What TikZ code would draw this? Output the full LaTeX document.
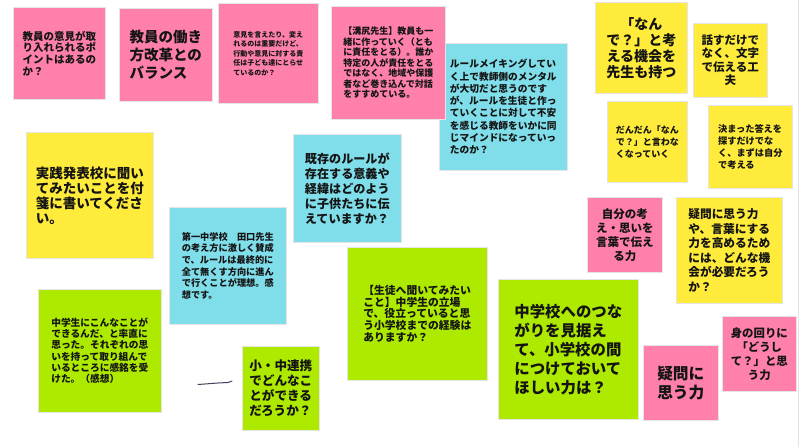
\documentclass[tikz,border=0pt]{standalone}
\usepackage{fontspec}
\setmainfont{Noto Sans CJK JP}
\usepackage{xcolor}
\usepackage{tikz}
\definecolor{notepink}{HTML}{FF80AB}
\definecolor{noteyellow}{HTML}{FFEB3B}
\definecolor{notecyan}{HTML}{80DEEA}
\definecolor{notelime}{HTML}{AEEA00}
\definecolor{boardedge}{HTML}{E4E4E8}
\definecolor{pentrace}{HTML}{4A3F5C}
\newcommand{\notefont}[2]{\fontsize{#1}{#2}\selectfont\bfseries}

\begin{document}
\begin{tikzpicture}[x=1pt, y=-1pt]
    % Styles
    \tikzstyle{note} = [anchor=north west, inner sep=0pt, align=left, text=black!92, draw=black!10, line width=0.6pt]
    \tikzstyle{notec} = [note, align=center]
    \tikzstyle{pen} = [draw=pentrace, line width=1pt, line cap=round]

    % Board
    \fill[white] (0,0) rectangle (800,447);
    \useasboundingbox (0,0) rectangle (800,447);
    \draw[boardedge, line width=1.2pt] (798.5,0) -- (798.5,447);

    % Pink notes, top row
    \node[note, fill=notepink, minimum width=92pt, minimum height=92pt, font=\notefont{10.5}{11.7}] (pointq) at (13,7) {教員の意見が取\\り入れられるポ\\イントはあるの\\か？};
    \node[note, fill=notepink, minimum width=93pt, minimum height=93pt, font=\notefont{14.5}{18}] (workstyle) at (119,8) {教員の働き\\方改革との\\バランス};
    \node[note, fill=notepink, minimum width=100pt, minimum height=100pt, font=\notefont{7}{9.5}] (responsibility) at (218,3) {意見を言えたり、変え\\れるのは重要だけど、\\行動や意見に対する責\\任は子ども達にとらせ\\ているのか？};

    % Cyan notes
    \node[note, fill=notecyan, minimum width=128pt, minimum height=127pt, font=\notefont{9.7}{12.3}] (rulemaking) at (439,43) {ルールメイキングしてい\\く上で教師側のメンタル\\が大切だと思うのです\\が、ルールを生徒と作っ\\ていくことに対して不安\\を感じる教師をいかに同\\じマインドになっていっ\\たのか？};
    \node[note, fill=notepink, minimum width=114pt, minimum height=113pt, font=\notefont{9}{10.5}] (mizojiri) at (331,6) {【溝尻先生】教員も一\\緒に作っていく（とも\\に責任をとる）。誰か\\特定の人が責任をとる\\ではなく、地域や保護\\者など巻き込んで対話\\をすすめている。};
    \node[note, fill=notecyan, minimum width=108pt, minimum height=108pt, font=\notefont{12.1}{15}] (existing) at (293,134) {既存のルールが\\存在する意義や\\経緯はどのよう\\に子供たちに伝\\えていますか？};
    \node[note, fill=notecyan, minimum width=117pt, minimum height=117pt, font=\notefont{9.2}{11.7}] (taguchi) at (169,207) {第一中学校　田口先生\\の考え方に激しく賛成\\で、ルールは最終的に\\全て無くす方向に進ん\\で行くことが理想。感\\想です。};

    % Yellow notes
    \node[notec, fill=noteyellow, minimum width=92pt, minimum height=91pt, font=\notefont{14}{16}] (nande) at (595,2) {「なん\\で？」と考\\える機会を\\先生も持つ};
    \node[notec, fill=noteyellow, minimum width=74pt, minimum height=74pt, font=\notefont{11.5}{13.5}] (mojide) at (693,23) {話すだけで\\なく、文字\\で伝える工\\夫};
    \node[note, fill=noteyellow, minimum width=80pt, minimum height=81pt, font=\notefont{9}{12}] (iwanaku) at (607,101) {だんだん「なん\\で？」と言わな\\くなっていく};
    \node[note, fill=noteyellow, minimum width=84pt, minimum height=83pt, font=\notefont{9.2}{12}] (jibunde) at (708,105) {決まった答えを\\探すだけでな\\く、まずは自分\\で考える};
    \node[note, fill=noteyellow, minimum width=127pt, minimum height=126pt, font=\notefont{13.5}{15}] (instruction) at (26,132) {実践発表校に聞い\\てみたいことを付\\箋に書いてくださ\\い。};
    \node[note, fill=noteyellow, minimum width=106pt, minimum height=106pt, font=\notefont{11.7}{14.5}] (questionpower) at (676,197) {疑問に思う力\\や、言葉にする\\力を高めるため\\には、どんな機\\会が必要だろう\\か？};

    % Lime notes
    \node[note, fill=notelime, minimum width=140pt, minimum height=133pt, font=\notefont{10.8}{11.7}] (askstudents) at (347,247) {【生徒へ聞いてみたい\\こと】中学生の立場\\で、役立っていると思\\う小学校までの経験は\\ありますか？};
    \node[note, fill=notelime, minimum width=123pt, minimum height=123pt, font=\notefont{9.7}{11.2}] (impression) at (38,289) {中学生にこんなことが\\できるんだ、と率直に\\思った。それぞれの思\\いを持って取り組んで\\いるところに感銘を受\\けた。（感想）};
    \node[note, fill=notelime, minimum width=77pt, minimum height=84pt, font=\notefont{12.6}{15}] (renkei) at (242,346) {小・中連携\\でどんなこ\\とができる\\だろうか？};
    \node[note, fill=notelime, minimum width=140pt, minimum height=140pt, font=\notefont{15.4}{19}] (connection) at (498,279) {中学校へのつな\\がりを見据え\\て、小学校の間\\につけておいて\\ほしい力は？};

    % Pink notes, right side
    \node[notec, fill=notepink, minimum width=75pt, minimum height=75pt, font=\notefont{11.5}{14}] (expressown) at (587,197) {自分の考\\え・思いを\\言葉で伝え\\る力};
    \node[notec, fill=notepink, minimum width=75pt, minimum height=75pt, font=\notefont{15.7}{19}] (gimon) at (643,345) {疑問に\\思う力};
    \node[notec, fill=notepink, minimum width=74pt, minimum height=75pt, font=\notefont{11.4}{14}] (dooshite) at (722,316) {身の回りに\\「どうし\\て？」と思\\う力};

    % Stray pen stroke
    \draw[pen] (198,384.5) -- (218,383) -- (228,382.5) -- (232,381);
\end{tikzpicture}
\end{document}
